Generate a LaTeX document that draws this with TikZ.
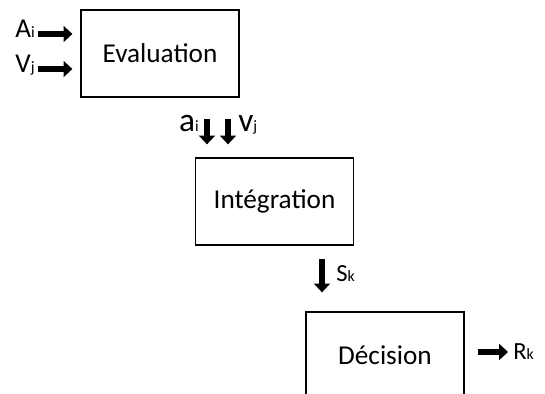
\documentclass[tikz,border=0pt]{standalone}
\usepackage{fontspec}
\setmainfont{Carlito}
\usetikzlibrary{arrows.meta,positioning}
\newcommand{\idx}[1]{{\fontsize{9}{10}\selectfont #1}}
\tikzset{
  bloc/.style={rectangle, draw, line width=0.7pt, minimum width=3.16cm, minimum height=1.74cm, font=\fontsize{15.5}{18}\selectfont},
  fl/.style={-{Triangle[length=5pt,width=9pt]}, line width=3.4pt},
}
\begin{document}
\begin{tikzpicture}
        \useasboundingbox (0,0) rectangle (10.9,7.88);
        \clip (0,0) rectangle (10.9,7.88);
        %%%%%%%%%% Blocs %%%%%%%%%%
        \node[bloc] (E) at (3.2,6.81) {Evaluation};
        \node[bloc] (I) at (5.49,3.85) {Intégration};
        \node[bloc] (D) at (7.7,0.77) {Décision};

        %%%%%%%%%% Entrees %%%%%%%%%%
        \coordinate (inA) at (0.76,7.2);
        \coordinate (inV) at (0.76,6.5);
        \node[anchor=base east, inner sep=0pt, font=\fontsize{15.5}{18}\selectfont] (A) at (0.7,7.12) {A\idx{i}};
        \node[anchor=base east, inner sep=0pt, font=\fontsize{15.5}{18}\selectfont] (V) at (0.7,6.42) {V\idx{j}};
        \draw[fl] (inA) -- (inA -| E.west) [shorten >=0.16cm];
        \draw[fl] (inV) -- (inV -| E.west) [shorten >=0.16cm];

        %%%%%%%%%% Fleches %%%%%%%%%%
        \coordinate (da) at (4.14,5.52);
        \coordinate (dv) at (4.56,5.52);
        \draw[fl, shorten <=0.42cm, shorten >=0.26cm] (E.south -| da) -- (I.north -| da);
        \draw[fl, shorten <=0.42cm, shorten >=0.26cm] (E.south -| dv) -- (I.north -| dv);
        \node[anchor=base east, inner sep=0pt, font=\fontsize{19}{22}\selectfont] (a) at (3.98,5.24) {a\idx{i}};
        \node[anchor=base west, inner sep=0pt, font=\fontsize{19}{22}\selectfont] (v) at (4.76,5.24) {v\idx{j}};

        \coordinate (ds) at (6.44,2.72);
        \draw[fl, shorten <=0.26cm, shorten >=0.38cm] (I.south -| ds) -- (D.north -| ds);
        \node[anchor=base west, inner sep=0pt, font=\fontsize{14}{16}\selectfont] (S) at (6.72,2.24) {S\idx{k}};

        %%%%%%%%%% Sortie %%%%%%%%%%
        \coordinate (outR) at (10.16,0.84);
        \draw[fl, shorten <=0.26cm] (D.east |- outR) -- (outR);
        \node[anchor=base west, inner sep=0pt, font=\fontsize{14}{16}\selectfont] (R) at (10.26,0.68) {R\idx{k}};
\end{tikzpicture}
\end{document}
